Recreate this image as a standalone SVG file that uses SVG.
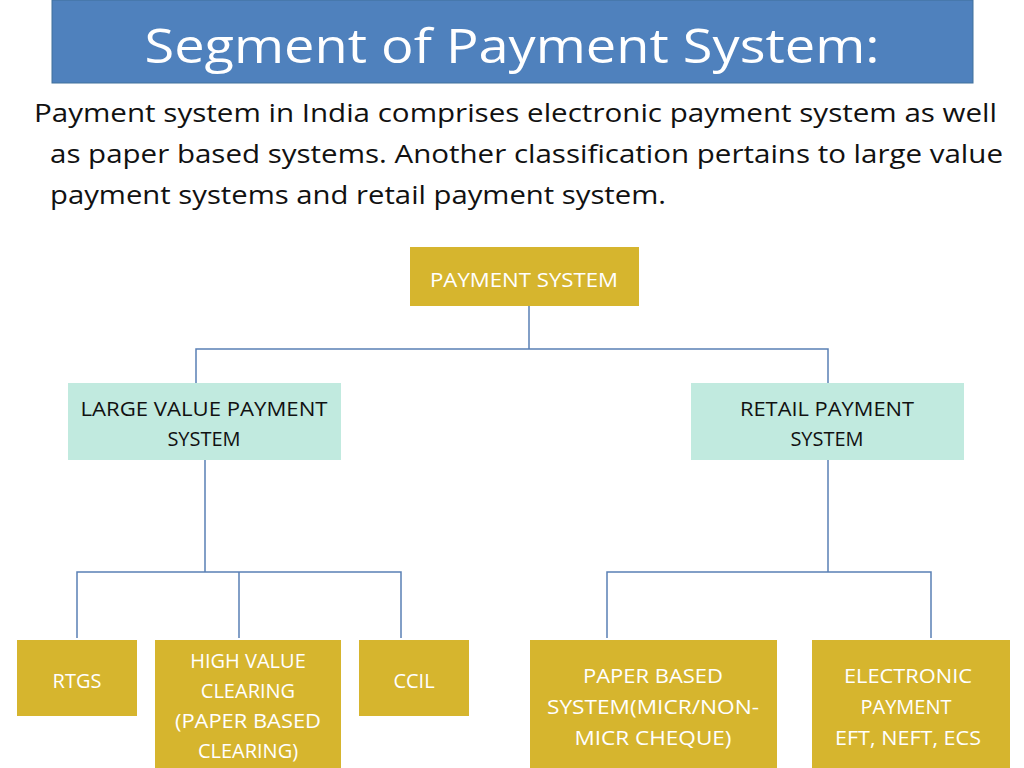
<svg xmlns="http://www.w3.org/2000/svg" width="1024" height="768" viewBox="0 0 1024 768">
<style>
.g{fill:#D6B52E}
.t{fill:#C1EADF}
.lw{font-family:"Open Sans","Liberation Sans",sans-serif;font-size:20px;fill:#fff;text-anchor:middle}
.lb{font-family:"Open Sans","Liberation Sans",sans-serif;font-size:20px;fill:#111;text-anchor:middle}
.body{font-family:"Open Sans","Liberation Sans",sans-serif;font-size:26px;fill:#111}
#connectors path{fill:none;stroke:#5A80B5;stroke-width:1.5}
</style>
<rect width="1024" height="768" fill="#fff"/>
<g id="title"><rect x="52" y="0" width="921" height="83" fill="#4F81BD" stroke="#41719C"/>
<text x="512" y="63" font-family="Open Sans,Liberation Sans,sans-serif" font-size="48" fill="#fff" text-anchor="middle" textLength="735" lengthAdjust="spacingAndGlyphs">Segment of Payment System:</text></g>
<g id="intro">
<text class="body" x="34" y="122" textLength="963" lengthAdjust="spacingAndGlyphs">Payment system in India comprises electronic payment system as well</text>
<text class="body" x="50" y="163" textLength="953" lengthAdjust="spacingAndGlyphs">as paper based systems. Another classification pertains to large value</text>
<text class="body" x="50" y="204" textLength="616" lengthAdjust="spacingAndGlyphs">payment systems and retail payment system.</text>
</g>
<g id="connectors">
<path d="M529 306V349M196 383V349H828V383"/>
<path d="M205 460V572M77 638V572H401V638M239 572V638"/>
<path d="M828 460V572M607 638V572H931V638"/>
</g>
<g id="payment-system"><rect class="g" x="410" y="247" width="229" height="59"/><text class="lw" x="524" y="287" textLength="188" lengthAdjust="spacingAndGlyphs">PAYMENT SYSTEM</text></g>
<g id="large-value"><rect class="t" x="68" y="383" width="273" height="77"/><text class="lb" x="204" y="416" textLength="247" lengthAdjust="spacingAndGlyphs">LARGE VALUE PAYMENT</text><text class="lb" x="204" y="446">SYSTEM</text></g>
<g id="retail"><rect class="t" x="691" y="383" width="273" height="77"/><text class="lb" x="827" y="416" textLength="174" lengthAdjust="spacingAndGlyphs">RETAIL PAYMENT</text><text class="lb" x="827" y="446">SYSTEM</text></g>
<g id="rtgs"><rect class="g" x="17" y="640" width="120" height="76"/><text class="lw" x="77" y="688">RTGS</text></g>
<g id="hvc"><rect class="g" x="155" y="640" width="186" height="128"/>
<text class="lw" x="248" y="668">HIGH VALUE</text><text class="lw" x="248" y="698">CLEARING</text><text class="lw" x="248" y="728" textLength="146" lengthAdjust="spacingAndGlyphs">(PAPER BASED</text><text class="lw" x="248" y="758">CLEARING)</text></g>
<g id="ccil"><rect class="g" x="359" y="640" width="110" height="76"/><text class="lw" x="414" y="688">CCIL</text></g>
<g id="paper"><rect class="g" x="530" y="640" width="247" height="128"/>
<text class="lw" x="653" y="683" textLength="140" lengthAdjust="spacingAndGlyphs">PAPER BASED</text><text class="lw" x="653" y="714" textLength="212" lengthAdjust="spacingAndGlyphs">SYSTEM(MICR/NON-</text><text class="lw" x="653" y="745" textLength="157" lengthAdjust="spacingAndGlyphs">MICR CHEQUE)</text></g>
<g id="electronic"><rect class="g" x="812" y="640" width="198" height="128"/>
<text class="lw" x="908" y="683" textLength="128" lengthAdjust="spacingAndGlyphs">ELECTRONIC</text><text class="lw" x="906" y="714">PAYMENT</text><text class="lw" x="908" y="745" textLength="146" lengthAdjust="spacingAndGlyphs">EFT, NEFT, ECS</text></g>
</svg>
